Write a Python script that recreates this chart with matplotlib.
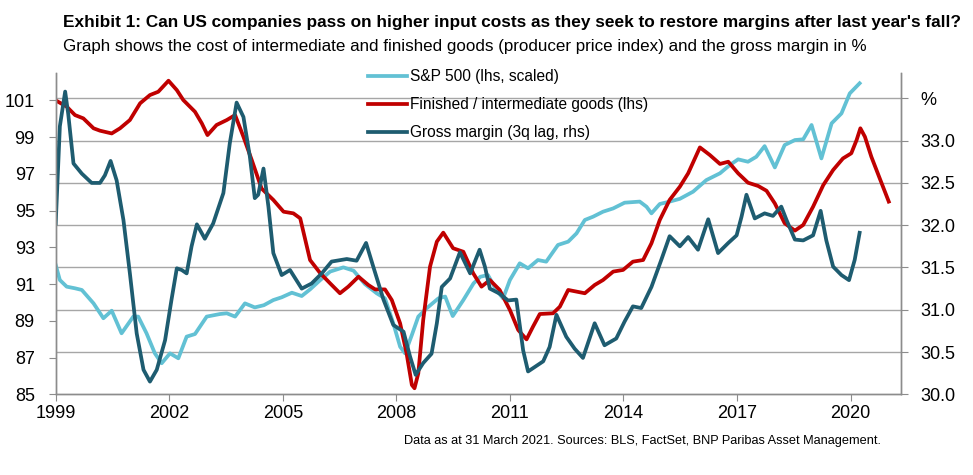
import matplotlib
matplotlib.use('Agg')
import matplotlib.pyplot as plt
from matplotlib import font_manager

# fonts: narrow Arial-like face if available, otherwise Arial-metric Liberation Sans
names = {f.name for f in font_manager.fontManager.ttflist}
narrow = 'Liberation Sans Narrow' in names
family = 'Liberation Sans Narrow' if narrow else 'Liberation Sans'
plt.rcParams['font.family'] = [family, 'DejaVu Sans']
k = 1.0 if narrow else 0.82  # shrink wide face so the texts keep their widths

# data (decimal years)
spx_years = [1999.0, 1999.11, 1999.29, 1999.51, 1999.69, 2000.0, 2000.26, 2000.48, 2000.74, 2001.05,
             2001.18, 2001.4, 2001.62, 2001.8, 2002.02, 2002.24, 2002.46, 2002.68, 2002.99, 2003.34,
             2003.52, 2003.74, 2004.0, 2004.26, 2004.5, 2004.75, 2004.97, 2005.24, 2005.5, 2005.72,
             2005.99, 2006.25, 2006.6, 2006.87, 2007.17, 2007.48, 2007.7, 2007.92, 2008.1, 2008.23,
             2008.41, 2008.58, 2008.8, 2009.11, 2009.29, 2009.49, 2009.77, 2010.04, 2010.22, 2010.42,
             2010.64, 2010.82, 2011.0, 2011.26, 2011.48, 2011.74, 2011.96, 2012.27, 2012.54, 2012.76,
             2012.98, 2013.2, 2013.46, 2013.73, 2014.03, 2014.43, 2014.61, 2014.74, 2014.96, 2015.22,
             2015.49, 2015.84, 2016.19, 2016.55, 2016.81, 2017.03, 2017.29, 2017.51, 2017.73, 2018.0,
             2018.26, 2018.53, 2018.75, 2018.97, 2019.23, 2019.5, 2019.76, 2019.98, 2020.24]
spx = [92.04, 91.22, 90.86, 90.77, 90.68, 89.95, 89.14, 89.55, 88.32, 89.23,
       89.23, 88.32, 87.23, 86.69, 87.23, 86.96, 88.14, 88.28, 89.23, 89.37,
       89.41, 89.23, 89.95, 89.73, 89.85, 90.13, 90.28, 90.53, 90.35, 90.71,
       91.22, 91.68, 91.91, 91.73, 91.0, 90.5, 90.22, 88.86, 87.59, 87.23,
       88.23, 89.23, 89.68, 90.22, 90.32, 89.26, 90.13, 91.04, 91.4, 91.49,
       90.68, 90.22, 91.22, 92.13, 91.86, 92.31, 92.22, 93.13, 93.31, 93.76,
       94.49, 94.67, 94.94, 95.12, 95.43, 95.49, 95.21, 94.85, 95.36, 95.49,
       95.64, 96.03, 96.66, 97.03, 97.48, 97.79, 97.66, 97.93, 98.51, 97.35,
       98.57, 98.84, 98.88, 99.66, 97.84, 99.75, 100.29, 101.38, 101.93]

ppi_years = [1999.0, 1999.29, 1999.51, 1999.73, 2000.0, 2000.17, 2000.48, 2000.7, 2000.96, 2001.23,
             2001.49, 2001.71, 2001.98, 2002.2, 2002.37, 2002.68, 2002.86, 2003.01, 2003.25, 2003.52,
             2003.74, 2003.96, 2004.18, 2004.44, 2004.75, 2005.02, 2005.28, 2005.46, 2005.72, 2005.99,
             2006.25, 2006.51, 2006.73, 2007.0, 2007.26, 2007.44, 2007.7, 2007.88, 2008.1, 2008.27,
             2008.41, 2008.48, 2008.58, 2008.71, 2008.89, 2009.07, 2009.24, 2009.5, 2009.77, 2010.03,
             2010.25, 2010.47, 2010.73, 2011.0, 2011.22, 2011.44, 2011.61, 2011.79, 2012.14, 2012.32,
             2012.54, 2012.76, 2012.98, 2013.24, 2013.46, 2013.73, 2013.99, 2014.25, 2014.52, 2014.74,
             2014.96, 2015.22, 2015.49, 2015.71, 2016.02, 2016.28, 2016.55, 2016.77, 2017.03, 2017.29,
             2017.56, 2017.78, 2018.0, 2018.26, 2018.53, 2018.75, 2019.01, 2019.28, 2019.54, 2019.8,
             2020.02, 2020.16, 2020.26, 2020.38, 2020.55, 2020.77, 2021.01]
ppi = [101.0, 100.66, 100.2, 100.02, 99.48, 99.35, 99.2, 99.48, 99.93, 100.84,
       101.29, 101.47, 102.07, 101.56, 101.02, 100.38, 99.75, 99.11, 99.66, 99.93,
       100.2, 99.02, 97.75, 96.2, 95.58, 94.94, 94.85, 94.58, 92.31, 91.59,
       91.04, 90.5, 90.86, 91.4, 90.95, 90.71, 90.71, 90.13, 88.86, 87.23,
       85.51, 85.33, 86.14, 89.05, 91.95, 93.31, 93.8, 92.95, 92.76, 91.59,
       90.86, 91.22, 90.68, 89.59, 88.5, 87.99, 88.68, 89.37, 89.41, 89.77,
       90.68, 90.59, 90.5, 90.95, 91.22, 91.68, 91.77, 92.22, 92.31, 93.22,
       94.49, 95.58, 96.3, 97.03, 98.44, 98.03, 97.54, 97.66, 97.03, 96.52,
       96.34, 96.08, 95.39, 94.31, 93.91, 94.22, 95.21, 96.39, 97.21, 97.84,
       98.12, 98.84, 99.48, 99.02, 97.93, 96.76, 95.49]

gm_years = [1999.0, 1999.11, 1999.25, 1999.33, 1999.47, 1999.69, 1999.95, 2000.17, 2000.3, 2000.45,
            2000.61, 2000.79, 2000.96, 2001.14, 2001.32, 2001.49, 2001.67, 2001.89, 2002.06, 2002.2,
            2002.33, 2002.46, 2002.59, 2002.73, 2002.94, 2003.16, 2003.43, 2003.6, 2003.78, 2003.96,
            2004.13, 2004.26, 2004.35, 2004.49, 2004.62, 2004.75, 2004.97, 2005.19, 2005.5, 2005.76,
            2006.03, 2006.29, 2006.69, 2006.95, 2007.2, 2007.39, 2007.66, 2007.92, 2008.19, 2008.36,
            2008.51, 2008.71, 2008.93, 2009.07, 2009.2, 2009.42, 2009.68, 2009.95, 2010.2, 2010.34,
            2010.47, 2010.73, 2010.95, 2011.17, 2011.35, 2011.48, 2011.88, 2012.05, 2012.23, 2012.49,
            2012.71, 2012.93, 2013.24, 2013.5, 2013.81, 2014.03, 2014.25, 2014.47, 2014.74, 2015.0,
            2015.22, 2015.49, 2015.71, 2015.97, 2016.24, 2016.5, 2016.77, 2016.99, 2017.12, 2017.25,
            2017.47, 2017.73, 2017.95, 2018.17, 2018.31, 2018.53, 2018.75, 2019.01, 2019.21, 2019.36,
            2019.54, 2019.76, 2019.96, 2020.11, 2020.24]
gm = [32.02, 33.17, 33.58, 33.32, 32.73, 32.61, 32.5, 32.5, 32.59, 32.76,
      32.53, 32.06, 31.43, 30.72, 30.29, 30.15, 30.29, 30.64, 31.12, 31.49,
      31.47, 31.43, 31.75, 32.01, 31.84, 32.02, 32.38, 32.97, 33.45, 33.28,
      32.81, 32.32, 32.36, 32.67, 32.22, 31.67, 31.41, 31.47, 31.25, 31.31,
      31.43, 31.57, 31.6, 31.58, 31.79, 31.51, 31.12, 30.82, 30.74, 30.45,
      30.23, 30.37, 30.48, 30.84, 31.27, 31.37, 31.68, 31.43, 31.71, 31.51,
      31.25, 31.19, 31.11, 31.12, 30.52, 30.27, 30.39, 30.56, 30.94, 30.68,
      30.54, 30.43, 30.84, 30.58, 30.66, 30.86, 31.04, 31.02, 31.27, 31.59,
      31.87, 31.75, 31.86, 31.71, 32.07, 31.67, 31.79, 31.88, 32.1, 32.36,
      32.08, 32.14, 32.11, 32.22, 32.06, 31.83, 31.82, 31.88, 32.17, 31.82,
      31.51, 31.41, 31.35, 31.59, 31.91]

x_ticks = [1999, 2002, 2005, 2008, 2011, 2014, 2017, 2020]
left_ticks = [85, 87, 89, 91, 93, 95, 97, 99, 101]
right_ticks = [30.0, 30.5, 31.0, 31.5, 32.0, 32.5, 33.0, 33.5]
right_labels = ['30.0', '30.5', '31.0', '31.5', '32.0', '32.5', '33.0', '%']

c_spx = '#62C1D4'
c_ppi = '#C00000'
c_gm = '#1E5C70'
c_grid = '#A6A6A6'
c_spine = '#8C8C8C'

W, H = 973, 475
fig = plt.figure(figsize=(W / 100, H / 100), dpi=100)
ax = fig.add_axes([55.7 / W, 1 - 394.3 / H, (900.5 - 55.7) / W, (394.3 - 73) / H])
ax2 = ax.twinx()

ax.set_xlim(1999, 2021.32)
ax.set_ylim(85, 102.49)
ax2.set_ylim(30, 33.8)

l1, = ax.plot(spx_years, spx, color=c_spx, lw=2.7, solid_joinstyle='round', label='S&P 500 (lhs, scaled)')
l2, = ax.plot(ppi_years, ppi, color=c_ppi, lw=2.7, solid_joinstyle='round', label='Finished / intermediate goods (lhs)')
l3, = ax2.plot(gm_years, gm, color=c_gm, lw=2.7, solid_joinstyle='round', label='Gross margin (3q lag, rhs)')

ax.set_xticks(x_ticks)
ax.set_xticklabels([str(y) for y in x_ticks])
ax.set_yticks(left_ticks)
ax2.set_yticks(right_ticks)
ax2.set_yticklabels(right_labels)

# gridlines follow the right-hand axis ticks
for r in right_ticks[1:]:
    disp = ax2.transData.transform((0, r))
    yl = ax.transData.inverted().transform(disp)[1]
    ax.axhline(yl, color=c_grid, lw=1, zorder=0)

for a in (ax, ax2):
    a.spines['top'].set_visible(False)
    for s in ('left', 'right', 'bottom'):
        a.spines[s].set_color(c_spine)
        a.spines[s].set_linewidth(1)
ax.tick_params(axis='x', direction='out', length=5, color=c_spine, labelsize=13, pad=3)
ax.tick_params(axis='y', direction='out', length=5, color=c_spine, labelsize=13, pad=10)
ax2.tick_params(axis='y', direction='out', length=5, color=c_spine, labelsize=13, pad=9)

leg = fig.legend(handles=[l1, l2, l3], loc='upper left', bbox_to_anchor=(368 / W, 1 - 69 / H),
                 frameon=False, fontsize=11.2, handlelength=2.5, handletextpad=0.2,
                 labelspacing=0.85, borderpad=0, borderaxespad=0)

fig.text(63 / W, 1 - 22 / H, "Exhibit 1: Can US companies pass on higher input costs as they seek to restore margins after last year's fall?",
         fontsize=15.1 * k, fontweight='bold', va='center', ha='left')
fig.text(63 / W, 1 - 47 / H, 'Graph shows the cost of intermediate and finished goods (producer price index) and the gross margin in %',
         fontsize=14.9 * k, va='center', ha='left')
fig.text(881 / W, 1 - 441 / H, 'Data as at 31 March 2021. Sources: BLS, FactSet, BNP Paribas Asset Management.',
         fontsize=11.2 * k, va='center', ha='right')

fig.savefig('out.png', dpi=100)
